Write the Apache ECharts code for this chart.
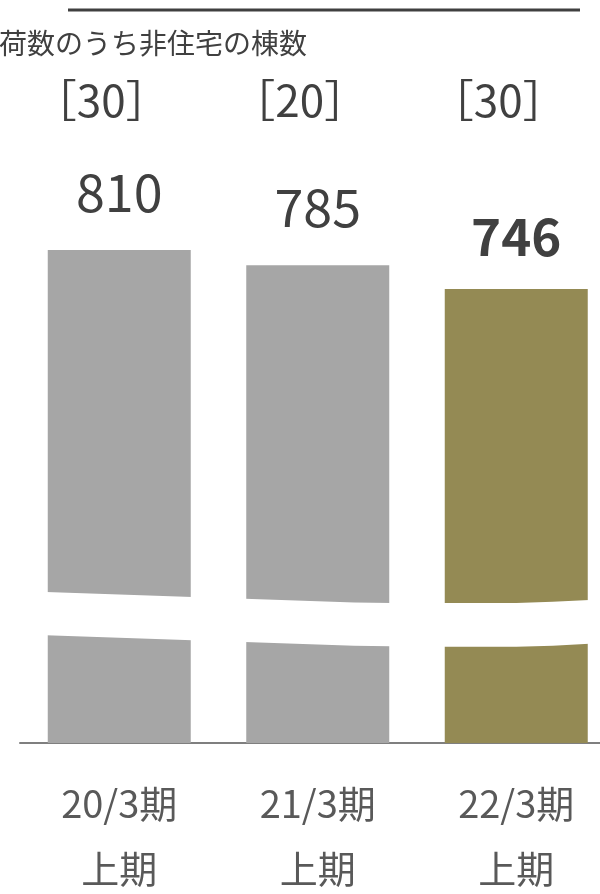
<!DOCTYPE html>
<html><head><meta charset="utf-8">
<script src="https://cdn.jsdelivr.net/npm/echarts@6/dist/echarts.min.js"></script>
<style>html,body{margin:0;padding:0;background:#fff}#c{width:600px;height:894px}</style>
</head><body><div id="c"></div>
<script>
const categories = ['20/3期\n上期', '21/3期\n上期', '22/3期\n上期'];
const values = [810, 785, 746];
const bracketValues = [30, 20, 30];
const subtitle = '荷数のうち非住宅の棟数';

const FONT = '"Noto Sans CJK JP", "Noto Sans", sans-serif';
const GRAY = '#a6a6a6', OLIVE = '#948a54', TXT = '#404040';

const chart = echarts.init(document.getElementById('c'), null, {renderer: 'canvas'});
const option = {
  animation: false,
  grid: {left: 20, right: -15.5, top: 134.5, bottom: 151, containLabel: false, outerBoundsMode: 'none'},
  xAxis: [{
    type: 'category', data: categories, position: 'bottom',
    axisLine: {show: true, lineStyle: {color: '#7f7f7f', width: 2}},
    axisTick: {show: false},
    axisLabel: {margin: 28, fontSize: 38, lineHeight: 65, color: '#595959', fontFamily: FONT}
  }, {
    type: 'category', data: bracketValues.map(v => '［' + v + '］'), position: 'top',
    axisLine: {show: false}, axisTick: {show: false},
    axisLabel: {margin: 12, fontSize: 44, color: TXT, fontFamily: FONT, padding: [0, 36, 0, 0]}
  }],
  yAxis: {type: 'value', min: 0, max: 1000, show: false, splitLine: {show: false}},
  series: [{
    type: 'bar', barWidth: 143,
    data: values.map((v, i) => ({
      value: v,
      itemStyle: {color: i === values.length - 1 ? OLIVE : GRAY},
      label: i === values.length - 1 ? {fontWeight: 'bold', fontSize: 51, lineHeight: 51, distance: 27} : {}
    })),
    label: {show: true, position: 'top', distance: 32, fontSize: 52, lineHeight: 52, color: TXT, fontFamily: FONT}
  }]
};
chart.setOption(option);

// decorative white break band (value units at bar positions -1, -0.5, 0, 0.5, 1 of half width)
const bandUpper = [[248, 246, 244, 242, 240], [237, 235, 233, 231, 230], [230, 230, 230, 232, 235]];
const bandLower = [[177, 175, 173, 171, 169], [166, 164, 162, 160, 159], [158, 158, 158, 160, 163]];
const graphics = [];
values.forEach((v, i) => {
  const half = 73;
  const c = chart.convertToPixel({xAxisIndex: 0, yAxisIndex: 0}, [i, 0]);
  const xs = [-1, -0.5, 0, 0.5, 1].map(f => c[0] + f * half);
  const up = xs.map((x, k) => [x, chart.convertToPixel({yAxisIndex: 0}, bandUpper[i][k])]);
  const lo = xs.map((x, k) => [x, chart.convertToPixel({yAxisIndex: 0}, bandLower[i][k])]).reverse();
  graphics.push({type: 'polygon', shape: {points: up.concat(lo)}, style: {fill: '#fff'}, z: 10});
});
graphics.push({type: 'line', shape: {x1: 68, y1: 10, x2: 580, y2: 10}, style: {stroke: '#404040', lineWidth: 3}, z: 10});
graphics.push({type: 'text', left: -1, top: 29, style: {text: subtitle, fontSize: 28, fill: TXT, fontFamily: FONT}, z: 10});
chart.setOption({graphic: graphics});
</script></body></html>
